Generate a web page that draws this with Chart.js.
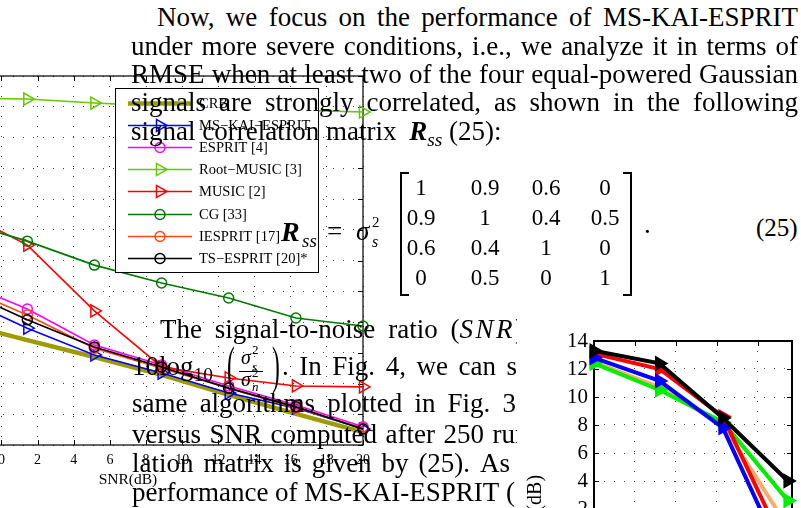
<!DOCTYPE html>
<html>
<head>
<meta charset="utf-8">
<script src="https://cdn.jsdelivr.net/npm/chart.js@4.4.1/dist/chart.umd.min.js"></script>
<style>
  html, body { margin: 0; padding: 0; background: #fff; overflow: hidden; }
  #page { position: relative; width: 801px; height: 508px; overflow: hidden; background: #fff; }
  #fig3 { position: absolute; left: -160px; top: 40px; z-index: 1; }
  #fig4box { position: absolute; left: 517px; top: 312px; width: 284px; height: 196px; overflow: hidden; background: #fff; z-index: 3; }
  #fig4 { position: absolute; left: 0; top: 0; }
  .tl { position: absolute; z-index: 2; font-family: 'Liberation Serif', serif; font-size: 27px; line-height: 27px; color: #000; white-space: nowrap; }
  .just { display: flex; justify-content: space-between; align-items: baseline; }
  .tl sub, .tl sup { line-height: 0; font-size: 0.72em; }
  .m { letter-spacing: 2.5px; }
  .slot { display: inline-block; position: relative; width: 55px; height: 0; margin-left: 14px; }
  .slot span { position: absolute; white-space: nowrap; }
  .brk { position: absolute; z-index: 2; top: 172px; width: 7px; height: 120px; border: 2px solid #000; }
</style>
</head>
<body>
<div id="page">
  <canvas id="fig3" width="560" height="470"></canvas>
  <div class="brk" style="left:400px; border-right:none;"></div>
  <div class="brk" style="left:623px; border-left:none;"></div>
  <div id="fig4box"><canvas id="fig4" width="284" height="423"></canvas></div>
</div>
<script>
// Fig. 3 (left): RMSE versus SNR
const snrDb = [-2.29, 1.43, 5.14, 8.86, 12.57, 16.29, 20];
const crb         = [3.97, 3.41, 2.86, 2.28, 1.63, 1.01, 0.42];
const msKaiEsprit = [4.81, 3.80, 2.93, 2.34, 1.69, 1.20, 0.52];
const esprit      = [5.33, 4.42, 3.25, 2.60, 1.92, 1.30, 0.59];
const rootMusic   = [11.28, 11.25, 11.12, 11.02, 10.96, 10.89, 10.83];
const music       = [7.64, 6.50, 4.36, 2.54, 2.18, 1.92, 1.89];
const cg          = [7.28, 6.63, 5.85, 5.27, 4.78, 4.13, 3.87];
const iesprit     = [5.17, 4.23, 3.15, 2.50, 1.85, 1.20, 0.55];
const tsEsprit    = [5.07, 4.07, 3.19, 2.54, 1.85, 1.24, 0.52];
const seriesNames = ['CRB', 'MS−KAI−ESPRIT', 'ESPRIT [4]', 'Root−MUSIC [3]', 'MUSIC [2]', 'CG [33]', 'IESPRIT [17]', 'TS−ESPRIT [20]*'];
const fig3XTicks = [-6, -4, -2, 0, 2, 4, 6, 8, 10, 12, 14, 16, 18, 20];
const fig3YTicks = [0, 1, 2, 3, 4, 5, 6, 7, 8, 9, 10, 11, 12];

// Fig. 4 (bottom right), only the top-left corner is visible
const fig4X      = [0, 1.6, 3.15, 4.74];
const fig4Black  = [13.3, 12.4, 8.5, 4.0];
const fig4Blue   = [12.8, 11.15, 7.8, -2.3];
const fig4Red    = [13.1, 12.0, 8.6, -1.2];
const fig4Green  = [12.4, 10.5, 8.2, 2.6];
const fig4Orange = [12.5, 10.7, 8.0, 0.7];
const fig4XTicks = [0, 1, 2, 3, 4];
const fig4YTicks = [-12, -10, -8, -6, -4, -2, 0, 2, 4, 6, 8, 10, 12, 14];

const corrMatrix = [[1, 0.9, 0.6, 0], [0.9, 1, 0.4, 0.5], [0.6, 0.4, 1, 0], [0, 0.5, 0, 1]];

const serif = "'Liberation Serif', 'Times New Roman', serif";
const page = document.getElementById('page');

// ---- text of the page ----
function put(html, x, base, size, extra) {
  const d = document.createElement('div');
  d.className = 'tl';
  d.style.left = x + 'px';
  d.style.top = (base - 0.8375 * size) + 'px';
  d.style.fontSize = size + 'px';
  d.style.lineHeight = size + 'px';
  if (extra) d.style.cssText += extra;
  d.innerHTML = html;
  page.appendChild(d);
  return d;
}
function jline(words, left, base, right) {
  const d = put(words.map(w => `<span>${w}</span>`).join(''), left, base, 27);
  d.classList.add('just');
  d.style.width = (right - left) + 'px';
}

jline(['Now,', 'we', 'focus', 'on', 'the', 'performance', 'of', 'MS-KAI-ESPRIT'], 157, 27, 798);
jline(['under', 'more', 'severe', 'conditions,', 'i.e.,', 'we', 'analyze', 'it', 'in', 'terms', 'of'], 131, 55.5, 798);
jline(['RMSE', 'when', 'at', 'least', 'two', 'of', 'the', 'four', 'equal-powered', 'Gaussian'], 131, 83.5, 798);
jline(['signals', 'are', 'strongly', 'correlated,', 'as', 'shown', 'in', 'the', 'following'], 131, 112, 798);
put('signal correlation matrix <span style="margin-left:6px"><b><i>R</i></b><sub><i>ss</i></sub></span> (25):', 131, 141, 27);

// equation (25)
put('<b><i>R</i></b>', 281, 241, 28);
put('<i>ss</i>', 302, 247, 19);
put('=', 327, 241, 27);
put('<i>σ</i>', 356, 241, 27);
put('2', 372, 228, 15);
put('<i>s</i>', 372, 247, 16);
const colX = [421, 485, 546, 605];
const rowBase = [195, 225, 255, 285];
corrMatrix.forEach((row, r) => row.forEach((v, c) => {
  put(String(v), colX[c] - 30, rowBase[r], 23, 'width:60px;text-align:center;');
}));
put('.', 644, 234, 27);
put('(25)', 756, 236, 25);

const frac =
  '<span class="slot">' +
  '<span style="left:0;top:-35px;font-size:52px;line-height:52px;transform:scaleX(0.45);transform-origin:0 0;">(</span>' +
  '<span style="left:14px;top:-28px;font-size:20px;line-height:20px;"><i>σ</i></span>' +
  '<span style="left:25px;top:-32px;font-size:13px;line-height:13px;">2</span>' +
  '<span style="left:25px;top:-15px;font-size:13px;line-height:13px;"><i>s</i></span>' +
  '<span style="left:12px;top:-4px;width:24px;height:1px;background:#000;"></span>' +
  '<span style="left:14px;top:-6px;font-size:20px;line-height:20px;"><i>σ</i></span>' +
  '<span style="left:25px;top:-9px;font-size:13px;line-height:13px;">2</span>' +
  '<span style="left:25px;top:5px;font-size:13px;line-height:13px;"><i>n</i></span>' +
  '<span style="left:45px;top:-35px;font-size:52px;line-height:52px;transform:scaleX(0.45);transform-origin:0 0;">)</span>' +
  '</span>';

jline(['The', 'signal-to-noise', 'ratio', '(<i class="m">SNR</i>)'], 160, 339, 524);
jline(['10log<sub>10</sub>' + frac + '.', 'In', 'Fig.', '4,', 'we', 'can', 'see'], 132, 376, 541);
jline(['same', 'algorithms', 'plotted', 'in', 'Fig.', '3'], 132, 413, 516);
jline(['versus', 'SNR', 'computed', 'after', '250', 'runs'], 132, 444, 539);
jline(['lation', 'matrix', 'is', 'given', 'by', '(25).', 'As'], 132, 473, 510);
jline(['performance', 'of', 'MS-KAI-ESPRIT', '('], 132, 502, 515);

// ---- chart helpers ----
function marker(ctx, style, x, y, r, fill) {
  ctx.beginPath();
  if (style === 'circle') {
    ctx.arc(x, y, r, 0, Math.PI * 2);
  } else {
    ctx.moveTo(x + r, y);
    ctx.lineTo(x - r / 2, y - r * 0.866);
    ctx.lineTo(x - r / 2, y + r * 0.866);
    ctx.closePath();
  }
  if (fill) ctx.fill();
  ctx.stroke();
}

// matlab style box with inward ticks
const frame = {
  id: 'frame',
  beforeDatasetsDraw(chart, args, opts) {
    const {ctx, chartArea: a, scales: {x, y}} = chart;
    const L = Math.round(a.left), R = Math.round(a.right), T = Math.round(a.top), B = Math.round(a.bottom);
    ctx.save();
    ctx.strokeStyle = '#000';
    ctx.lineWidth = opts.width;
    ctx.strokeRect(L, T, R - L, B - T);
    ctx.lineWidth = 1;
    ctx.beginPath();
    x.ticks.forEach(t => {
      const px = Math.round(x.getPixelForValue(t.value)) + 0.5;
      ctx.moveTo(px, T); ctx.lineTo(px, T + 5);
      ctx.moveTo(px, B); ctx.lineTo(px, B - 5);
    });
    y.ticks.forEach(t => {
      const py = Math.round(y.getPixelForValue(t.value)) + 0.5;
      ctx.moveTo(L, py); ctx.lineTo(L + 5, py);
      ctx.moveTo(R, py); ctx.lineTo(R - 5, py);
    });
    ctx.stroke();
    ctx.restore();
  }
};

// legend box inside the plot
const boxLegend = {
  id: 'boxLegend',
  afterDatasetsDraw(chart, args, o) {
    if (!o.show) return;
    const {ctx, chartArea: a} = chart;
    const L = Math.round(a.left + o.dx), T = Math.round(a.top + o.dy);
    ctx.save();
    ctx.fillStyle = '#fff';
    ctx.fillRect(L, T, o.w, o.h);
    ctx.strokeStyle = '#000';
    ctx.lineWidth = 1;
    ctx.strokeRect(L + 0.5, T + 0.5, o.w, o.h);
    ctx.font = '14.5px ' + serif;
    ctx.textBaseline = 'middle';
    seriesNames.forEach((name, i) => {
      const ds = chart.data.datasets.find(d => d.label === name);
      const yy = Math.round(T + o.first + i * o.step) + 0.5;
      ctx.strokeStyle = ds.borderColor;
      ctx.lineWidth = ds.borderWidth;
      ctx.beginPath();
      ctx.moveTo(L + 13, yy);
      ctx.lineTo(L + 77, yy);
      ctx.stroke();
      if (ds.pointRadius > 0) {
        ctx.lineWidth = ds.pointBorderWidth;
        marker(ctx, ds.pointStyle, L + 45, yy, ds.pointRadius, false);
      }
      ctx.fillStyle = '#000';
      ctx.fillText(name, L + 84, yy + 1);
    });
    ctx.restore();
  }
};

const dotted = {color: '#444', lineWidth: 1, drawTicks: false};

// ---- Fig. 3 ----
const mainSeries = [crb, msKaiEsprit, esprit, rootMusic, music, cg, iesprit, tsEsprit];
const mainStyles = [
  {color: '#9c9c00', width: 4.5, point: null},
  {color: '#0000ff', width: 1.6, point: 'triangle'},
  {color: '#ff00ff', width: 1.6, point: 'circle'},
  {color: '#66c800', width: 1.6, point: 'triangle'},
  {color: '#ff0000', width: 1.6, point: 'triangle'},
  {color: '#007a00', width: 1.6, point: 'circle'},
  {color: '#ff4a14', width: 1.6, point: 'circle'},
  {color: '#000000', width: 1.6, point: 'circle'}
];

new Chart(document.getElementById('fig3'), {
  type: 'line',
  data: {
    datasets: mainSeries.map((vals, i) => ({
      label: seriesNames[i],
      data: snrDb.map((x, j) => ({x, y: vals[j]})),
      borderColor: mainStyles[i].color,
      borderWidth: mainStyles[i].width,
      pointStyle: mainStyles[i].point || 'circle',
      pointRadius: mainStyles[i].point ? (mainStyles[i].point === 'circle' ? 5 : 7) : 0,
      pointRotation: mainStyles[i].point === 'triangle' ? 90 : 0,
      pointBorderWidth: 1.5,
      pointBorderColor: mainStyles[i].color,
      pointBackgroundColor: 'rgba(0,0,0,0)',
      tension: 0,
      clip: false,
      order: mainSeries.length - i
    }))
  },
  options: {
    responsive: false,
    animation: false,
    devicePixelRatio: 1,
    events: [],
    layout: {padding: {top: 36, right: 37, left: 0, bottom: 0}},
    plugins: {
      legend: {display: false},
      tooltip: {enabled: false},
      frame: {width: 1.2},
      boxLegend: {show: true, dx: 222, dy: 12, w: 203, h: 184, first: 15, step: 22.1}
    },
    scales: {
      x: {
        type: 'linear', min: -6, max: 20,
        afterBuildTicks: s => { s.ticks = fig3XTicks.map(v => ({value: v})); },
        afterFit: s => { s.height = 65; },
        grid: dotted,
        border: {display: false, dash: [1, 9]},
        ticks: {color: '#000', padding: 7, maxRotation: 0, autoSkip: false, font: {family: serif, size: 14}},
        title: {display: true, text: 'SNR(dB)', color: '#000', font: {family: serif, size: 15.5}, padding: {top: 0, bottom: 21}}
      },
      y: {
        type: 'linear', min: 0, max: 12,
        afterBuildTicks: s => { s.ticks = fig3YTicks.map(v => ({value: v})); },
        afterFit: s => { s.width = 53; },
        grid: dotted,
        border: {display: false, dash: [1, 9]},
        ticks: {color: '#000', autoSkip: false, font: {family: serif, size: 14}}
      }
    }
  },
  plugins: [frame, boxLegend]
});

// ---- Fig. 4 ----
const fig4Series = [fig4Orange, fig4Green, fig4Red, fig4Blue, fig4Black];
const fig4Colors = ['#ffaa66', '#00ee00', '#ff0000', '#0000ff', '#000000'];

new Chart(document.getElementById('fig4'), {
  type: 'line',
  data: {
    datasets: fig4Series.map((vals, i) => ({
      label: 'fig4-' + i,
      data: fig4X.map((x, j) => ({x, y: vals[j]})),
      borderColor: fig4Colors[i],
      borderWidth: 4,
      pointStyle: 'triangle',
      pointRotation: 90,
      pointRadius: 7,
      pointBorderWidth: 2,
      pointBorderColor: fig4Colors[i],
      pointBackgroundColor: fig4Colors[i],
      tension: 0,
      clip: false,
      order: fig4Series.length - i
    }))
  },
  options: {
    responsive: false,
    animation: false,
    devicePixelRatio: 1,
    events: [],
    layout: {padding: {top: 29, right: 0, left: 0, bottom: 0}},
    plugins: {
      legend: {display: false},
      tooltip: {enabled: false},
      frame: {width: 2},
      boxLegend: {show: false}
    },
    scales: {
      x: {
        type: 'linear', min: 0, max: 4.84,
        afterBuildTicks: s => { s.ticks = fig4XTicks.map(v => ({value: v})); },
        afterFit: s => { s.height = 30; },
        grid: dotted,
        border: {display: false, dash: [1, 9]},
        ticks: {display: false, autoSkip: false}
      },
      y: {
        type: 'linear', min: -12, max: 14,
        afterBuildTicks: s => { s.ticks = fig4YTicks.map(v => ({value: v})); },
        afterFit: s => { s.width = 77; },
        grid: dotted,
        border: {display: false, dash: [1, 9]},
        ticks: {color: '#000', padding: 6, autoSkip: false, font: {family: serif, size: 21}},
        title: {display: true, text: 'RMSE (dB)', color: '#000', font: {family: serif, size: 20}, padding: {top: 6.5, bottom: 0}}
      }
    }
  },
  plugins: [frame, boxLegend]
});
</script>
</body>
</html>
